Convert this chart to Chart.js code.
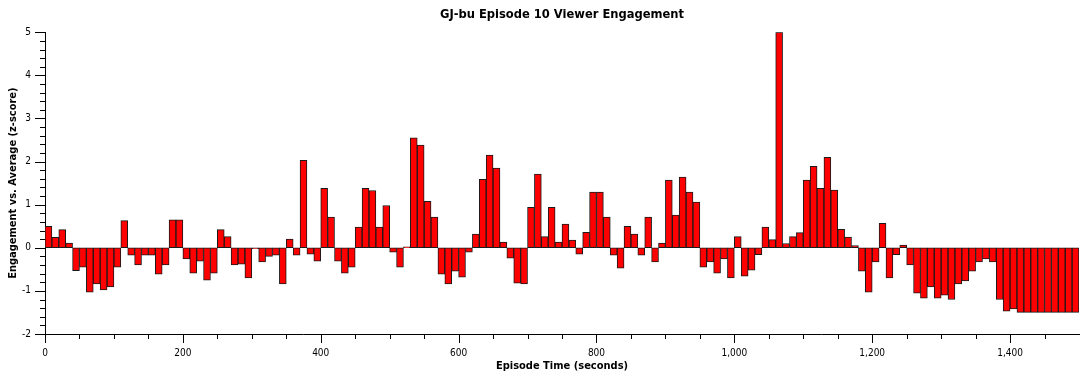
<!DOCTYPE html>
<html>
<head>
<meta charset="utf-8">
<script src="https://cdn.jsdelivr.net/npm/chart.js@4.4.1/dist/chart.umd.min.js"></script>
<style>
  html, body { margin: 0; padding: 0; background: #fff; }
  #wrap { width: 1089px; height: 380px; }
</style>
</head>
<body>
<div id="wrap"><canvas id="c" width="1089" height="380"></canvas></div>
<script>
// ---- data ----
const chartTitle = 'GJ-bu Episode 10 Viewer Engagement';
const xTitle = 'Episode Time (seconds)';
const yTitle = 'Engagement vs. Average (z-score)';
const binSeconds = 10; // each bar covers 10 seconds
const engagement = [
  0.50, 0.24, 0.42, 0.11, -0.53, -0.45, -1.03, -0.84, -0.98, -0.91,
  -0.45, 0.63, -0.17, -0.40, -0.17, -0.17, -0.61, -0.40, 0.65, 0.65,
  -0.26, -0.59, -0.31, -0.75, -0.59, 0.42, 0.26, -0.40, -0.38, -0.70,
  -0.02, -0.33, -0.20, -0.17, -0.84, 0.20, -0.17, 2.03, -0.15, -0.31,
  1.38, 0.71, -0.31, -0.59, -0.45, 0.48, 1.38, 1.33, 0.48, 0.98,
  -0.10, -0.45, 0.02, 2.55, 2.38, 1.08, 0.71, -0.61, -0.84, -0.54,
  -0.68, -0.10, 0.32, 1.59, 2.15, 1.85, 0.13, -0.24, -0.82, -0.84,
  0.94, 1.71, 0.26, 0.94, 0.13, 0.55, 0.18, -0.15, 0.36, 1.29,
  1.29, 0.71, -0.17, -0.47, 0.50, 0.32, -0.17, 0.71, -0.33, 0.11,
  1.57, 0.76, 1.64, 1.29, 1.06, -0.45, -0.33, -0.59, -0.26, -0.70,
  0.26, -0.66, -0.52, -0.16, 0.48, 0.19, 5.00, 0.10, 0.26, 0.35,
  1.57, 1.89, 1.38, 2.10, 1.34, 0.43, 0.25, 0.05, -0.54, -1.03,
  -0.33, 0.57, -0.70, -0.16, 0.06, -0.40, -1.05, -1.17, -0.91, -1.17,
  -1.10, -1.20, -0.84, -0.77, -0.54, -0.33, -0.26, -0.33, -1.20, -1.47,
  -1.42, -1.50, -1.50, -1.50, -1.50, -1.50, -1.50, -1.50, -1.50, -1.50
];
const binCenters = engagement.map((_, i) => i * binSeconds + binSeconds / 2);
const xMin = 0, xMax = 1500, xLabelStep = 200, xMinorStep = 50;
const yMin = -2, yMax = 5, yLabelStep = 1, yMinorStep = 0.2;

// ---- styling ----
const FONT = "'DejaVu Sans Condensed', 'DejaVu Sans', sans-serif";

// center the title over the plot area instead of the whole canvas
const titleOverPlot = {
  id: 'titleOverPlot',
  afterLayout(chart) {
    const tb = chart.titleBlock;
    if (tb) {
      tb.left = chart.chartArea.left;
      tb.right = chart.chartArea.right;
      tb.width = tb.right - tb.left;
    }
  }
};

const axisTicks = {
  id: 'axisTicks',
  afterDraw(chart) {
    const { ctx, chartArea, scales: { x, y } } = chart;
    ctx.save();
    ctx.strokeStyle = '#000';
    ctx.lineWidth = 1;
    ctx.beginPath();
    const nx = Math.round((xMax - xMin) / xMinorStep);
    for (let k = 0; k < nx; k++) {
      const v = xMin + k * xMinorStep;
      const px = Math.round(x.getPixelForValue(v)) + 0.5;
      const len = (v % xLabelStep === 0) ? 9 : 5;
      ctx.moveTo(px, chartArea.bottom);
      ctx.lineTo(px, chartArea.bottom + len);
    }
    const ny = Math.round((yMax - yMin) / yMinorStep);
    for (let k = 0; k <= ny; k++) {
      const v = yMin + k * yMinorStep;
      const py = Math.round(y.getPixelForValue(v)) + 0.5;
      const isMajor = Math.abs(v - Math.round(v)) < 1e-6;
      const len = isMajor ? 10 : 5;
      ctx.moveTo(chartArea.left - len, py);
      ctx.lineTo(chartArea.left, py);
    }
    ctx.stroke();
    ctx.restore();
  }
};

new Chart(document.getElementById('c'), {
  type: 'bar',
  data: {
    datasets: [{
      data: engagement.map((v, i) => ({ x: binCenters[i], y: v })),
      backgroundColor: '#ff0000',
      borderColor: '#1a1a1a',
      borderWidth: 1,
      borderSkipped: false,
      barPercentage: 1,
      categoryPercentage: 1
    }]
  },
  options: {
    responsive: false,
    animation: false,
    devicePixelRatio: 1,
    layout: { padding: { left: 0, right: 10, top: 0, bottom: 0 } },
    plugins: {
      legend: { display: false },
      tooltip: { enabled: false },
      title: {
        display: true,
        text: chartTitle,
        color: '#000',
        font: { family: FONT, size: 12.8, weight: 'bold', lineHeight: 1.2 },
        padding: { top: 6.5, bottom: 10.4 }
      }
    },
    scales: {
      x: {
        type: 'linear',
        min: xMin,
        max: xMax,
        offset: false,
        grid: { display: false, drawTicks: true, tickLength: 9 },
        border: { display: true, color: '#000', width: 1 },
        ticks: {
          stepSize: xLabelStep,
          includeBounds: false,
          color: '#000',
          padding: 4,
          maxRotation: 0,
          autoSkip: false,
          font: { family: FONT, size: 10 },
          callback: (v) => Number(v).toLocaleString('en-US')
        },
        title: {
          display: true,
          text: xTitle,
          color: '#000',
          font: { family: FONT, size: 11, weight: 'bold', lineHeight: 1.2 },
          padding: { top: 0, bottom: 7 }
        },
        afterFit: (s) => { s.height = 46; }
      },
      y: {
        min: yMin,
        max: yMax,
        grid: { display: false, drawTicks: true, tickLength: 10 },
        border: { display: true, color: '#000', width: 1 },
        ticks: {
          stepSize: yLabelStep,
          color: '#000',
          padding: 4,
          font: { family: FONT, size: 10 },
          callback: (v) => String(v)
        },
        title: {
          display: true,
          text: yTitle,
          color: '#000',
          font: { family: FONT, size: 11, weight: 'bold', lineHeight: 1.2 },
          padding: { top: 7, bottom: 0 }
        },
        afterFit: (s) => { s.width = 45; }
      }
    }
  },
  plugins: [titleOverPlot, axisTicks]
});
</script>
</body>
</html>
